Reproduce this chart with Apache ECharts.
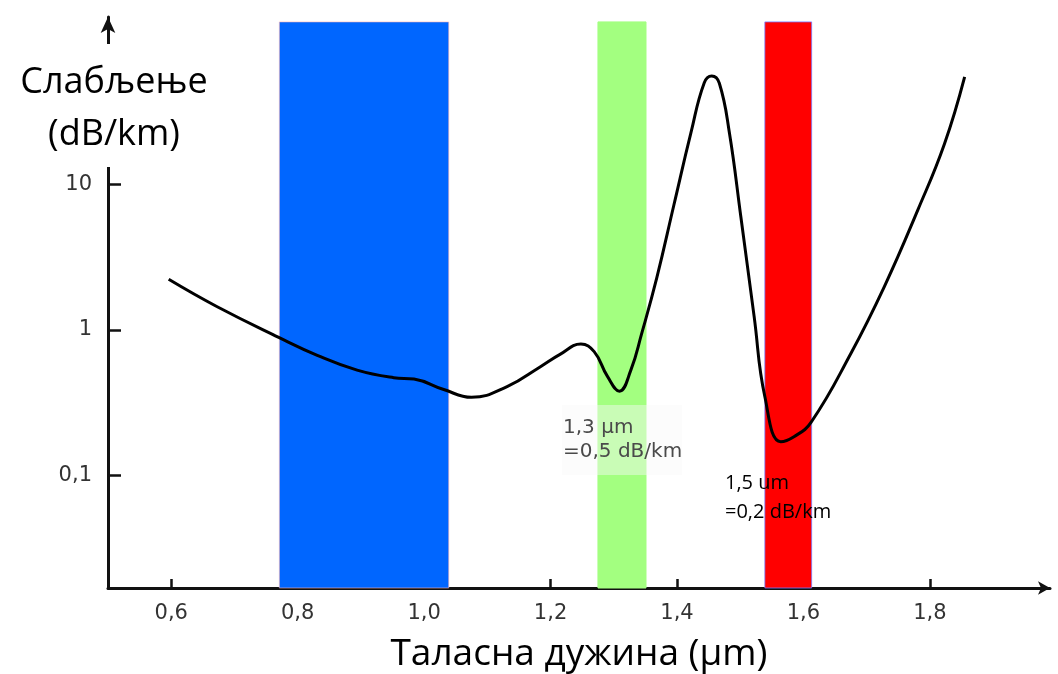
<!DOCTYPE html>
<html>
<head>
<meta charset="utf-8">
<script src="https://cdn.jsdelivr.net/npm/echarts@6/dist/echarts.min.js"></script>
<style>
  html, body { margin: 0; padding: 0; background: #ffffff; }
  #chart { width: 1058px; height: 674px; }
</style>
</head>
<body>
<div id="chart"></div>
<script>
// Attenuation of silica fibre versus wavelength (dB/km, log scale)
const wavelength = [0.596, 0.672, 0.770, 0.831, 0.894, 0.952, 0.984, 1.031, 1.075, 1.132,
  1.184, 1.215, 1.248, 1.269, 1.290, 1.309, 1.327, 1.344, 1.368, 1.395, 1.422, 1.443,
  1.455, 1.467, 1.483, 1.501, 1.522, 1.539, 1.564, 1.585, 1.612, 1.675, 1.728, 1.781,
  1.823, 1.855];
const attenuation = [2.23, 1.45, 0.89, 0.67, 0.53, 0.47, 0.46, 0.39, 0.345, 0.41,
  0.56, 0.68, 0.80, 0.71, 0.48, 0.38, 0.53, 0.94, 2.28, 7.2, 22.6, 49.9,
  55.7, 49.6, 22.5, 6.0, 1.24, 0.348, 0.171, 0.185, 0.232, 0.69, 1.99, 6.7,
  19.0, 55.0];

// Axis ticks
const xTicks = [0.6, 0.8, 1.0, 1.2, 1.4, 1.6, 1.8];
const xTickLabels = ['0,6', '0,8', '1,0', '1,2', '1,4', '1,6', '1,8'];
const yTicks = [0.1, 1, 10];
const yTickLabels = ['0,1', '1', '10'];

// Axis extents
const xMin = 0.5, xMax = 1.99;
const yMinDb = 0.01687, yMaxDb = 141.6;

// Transmission windows
const bandFrom = [0.771, 1.275, 1.539];
const bandTo = [1.039, 1.351, 1.613];
const bandColors = ['#0066ff', '#a3ff80', '#ff0000'];
const bandBorders = ['rgba(255,180,180,0.6)', 'rgba(163,255,128,1)', 'rgba(120,120,255,0.8)'];
const bandTopDb = 131;

const lg = Math.log10;
const yMin = lg(yMinDb), yMax = lg(yMaxDb);
const yTickLog = yTicks.map(lg);

function nearestLabel(ticks, labels, v) {
  let best = 0;
  for (let i = 1; i < ticks.length; i++) {
    if (Math.abs(ticks[i] - v) < Math.abs(ticks[best] - v)) best = i;
  }
  return labels[best];
}

const bandAreas = bandFrom.map((f, i) => [
  { xAxis: f, yAxis: yMin, itemStyle: { color: bandColors[i], borderColor: bandBorders[i], borderWidth: 1 } },
  { xAxis: bandTo[i], yAxis: lg(bandTopDb) }
]);

const chart = echarts.init(document.getElementById('chart'), null, { renderer: 'canvas' });

chart.setOption({
  animation: false,
  backgroundColor: '#ffffff',
  grid: { left: 108, right: 8, top: 17, bottom: 86 },
  xAxis: {
    type: 'value',
    min: xMin,
    max: xMax,
    axisLine: {
      show: true,
      onZero: false,
      lineStyle: { color: '#111', width: 3 },
      symbol: ['none', 'arrow'],
      symbolSize: [10, 12]
    },
    axisTick: {
      show: true, inside: true, length: 9,
      lineStyle: { color: '#111', width: 2.5 },
      customValues: xTicks
    },
    axisLabel: {
      show: true,
      customValues: xTicks,
      formatter: v => nearestLabel(xTicks, xTickLabels, v),
      color: '#333333',
      fontFamily: 'DejaVu Sans',
      fontSize: 21,
      margin: 15
    },
    splitLine: { show: false }
  },
  yAxis: {
    type: 'value',
    min: yMin,
    max: yMax,
    axisLine: {
      show: true,
      onZero: false,
      lineStyle: { color: '#111', width: 3 },
      symbol: ['none', 'arrow'],
      symbolSize: [11, 16]
    },
    axisTick: {
      show: true, inside: true, length: 13,
      lineStyle: { color: '#111', width: 2.5 },
      customValues: yTickLog
    },
    axisLabel: {
      show: true,
      customValues: yTickLog,
      formatter: v => nearestLabel(yTickLog, yTickLabels, v),
      color: '#333333',
      fontFamily: 'DejaVu Sans',
      fontSize: 21,
      margin: 16
    },
    splitLine: { show: false }
  },
  series: [
    {
      name: 'windows',
      type: 'line',
      data: [],
      silent: true,
      z: 1,
      markArea: { silent: true, data: bandAreas }
    },
    {
      name: 'attenuation',
      type: 'line',
      z: 5,
      smooth: 0.45,
      showSymbol: false,
      lineStyle: { color: '#000', width: 3 },
      data: wavelength.map((w, i) => [w, lg(attenuation[i])])
    }
  ],
  graphic: [
    {
      type: 'text', z: 100,
      x: 114, y: 44,
      style: {
        text: 'Слабљење\n(dB/km)',
        font: '36px "Open Sans"',
        fill: '#000',
        align: 'center',
        verticalAlign: 'top',
        lineHeight: 52,
        backgroundColor: '#ffffff',
        padding: [13, 6, 6, 6]
      }
    },
    {
      type: 'text', z: 100,
      x: 579, y: 654,
      style: {
        text: 'Таласна дужина (µm)',
        font: '37px "Open Sans"',
        fill: '#000',
        align: 'center',
        verticalAlign: 'middle'
      }
    },
    {
      type: 'rect', z: 50,
      shape: { x: 562, y: 405, width: 120, height: 70 },
      style: { fill: 'rgba(248,248,248,0.45)' }
    },
    {
      type: 'text', z: 100,
      x: 563, y: 440,
      style: {
        text: '1,3 µm\n=0,5 dB/km',
        font: '20px "DejaVu Sans"',
        fill: '#4a4a4a',
        align: 'left',
        verticalAlign: 'middle',
        lineHeight: 24
      }
    },
    {
      type: 'text', z: 100,
      x: 725, y: 498,
      style: {
        text: '1,5 um\n=0,2 dB/km',
        font: '20px "Open Sans"',
        fill: '#000',
        align: 'left',
        verticalAlign: 'middle',
        lineHeight: 29
      }
    }
  ]
});
</script>
</body>
</html>
